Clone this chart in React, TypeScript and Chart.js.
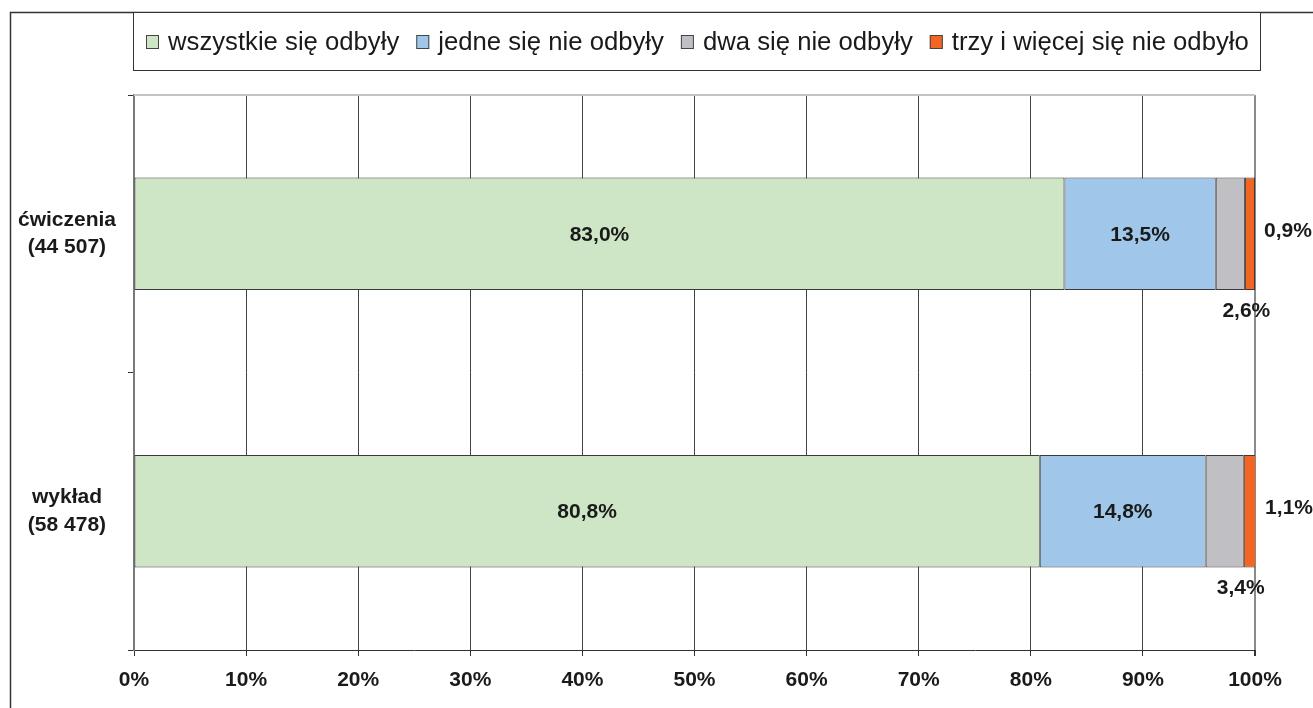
import React, { useEffect, useRef } from "react";
import { Chart, registerables } from "chart.js";

Chart.register(...registerables);

const categories: string[][] = [["ćwiczenia", "(44 507)"], ["wykład", "(58 478)"]];
const seriesNames = ["wszystkie się odbyły", "jedne się nie odbyły", "dwa się nie odbyły", "trzy i więcej się nie odbyło"];
const allHeld = [83.0, 80.8];
const oneMissed = [13.5, 14.8];
const twoMissed = [2.6, 3.4];
const threePlusMissed = [0.9, 1.1];
const xTicks = [0, 10, 20, 30, 40, 50, 60, 70, 80, 90, 100];
const colors = ["#cfe6c6", "#a0c7ea", "#c0c0c4", "#f26522"];

const FONT = "'Liberation Sans', Arial, Helvetica, sans-serif";

const fmt = (v: number) => v.toFixed(1).replace(".", ",") + "%";

const decorPlugin = {
  id: "decor",
  afterDraw(chart: any) {
    const ctx = chart.ctx as CanvasRenderingContext2D;
    const area = chart.chartArea;
    ctx.save();
    // plot area top border
    ctx.strokeStyle = "#c4c4c4";
    ctx.lineWidth = 2;
    ctx.beginPath();
    ctx.moveTo(area.left, area.top);
    ctx.lineTo(area.right, area.top);
    ctx.stroke();

    // outer frame (top + left)
    ctx.strokeStyle = "#333";
    ctx.lineWidth = 1.5;
    ctx.beginPath();
    ctx.moveTo(10.5, 708);
    ctx.lineTo(10.5, 12.5);
    ctx.lineTo(1313, 12.5);
    ctx.stroke();

    // legend box
    const lx = 133, ly = 12, lw = 1127, lh = 58;
    ctx.fillStyle = "#fff";
    ctx.fillRect(lx, ly, lw, lh);
    ctx.strokeStyle = "#333";
    ctx.lineWidth = 1;
    ctx.strokeRect(lx + 0.5, ly + 0.5, lw, lh);

    ctx.font = `25.7px ${FONT}`;
    ctx.textBaseline = "middle";
    ctx.textAlign = "left";
    let x = 146;
    const cy = 42;
    const datasets = chart.data.datasets;
    datasets.forEach((ds: any) => {
      ctx.fillStyle = ds.backgroundColor;
      ctx.fillRect(x, cy - 7, 13, 14);
      ctx.strokeStyle = "#444";
      ctx.lineWidth = 1;
      ctx.strokeRect(x + 0.5, cy - 6.5, 12, 13);
      x += 22;
      ctx.fillStyle = "#1a1a1a";
      ctx.fillText(ds.label, x, cy + 1);
      x += ctx.measureText(ds.label).width + 17;
    });

    // data labels
    ctx.font = `bold 21px ${FONT}`;
    ctx.fillStyle = "#1a1a1a";
    datasets.forEach((ds: any, di: number) => {
      const meta = chart.getDatasetMeta(di);
      meta.data.forEach((bar: any, i: number) => {
        const v = ds.data[i];
        const { x: bx, y: by, base, height } = bar.getProps(["x", "y", "base", "height"], true);
        const txt = fmt(v);
        if (di < 2) {
          ctx.textAlign = "center";
          ctx.fillText(txt, (bx + base) / 2, by + 1);
        } else if (di === 2) {
          ctx.textAlign = "center";
          ctx.fillText(txt, (bx + base) / 2 + 16, by + height / 2 + 21);
        } else {
          ctx.textAlign = "left";
          ctx.fillText(txt, bx + 9, by - 3);
        }
      });
    });
    ctx.restore();
  },
};

export default function App() {
  const ref = useRef<HTMLCanvasElement | null>(null);
  useEffect(() => {
    if (!ref.current) return;
    Chart.defaults.font.family = FONT;
    const chart = new Chart(ref.current, {
      type: "bar",
      data: {
        labels: categories,
        datasets: [allHeld, oneMissed, twoMissed, threePlusMissed].map((d, i) => ({
          label: seriesNames[i],
          data: d,
          backgroundColor: colors[i],
          borderColor: "#3a3a3a",
          borderWidth: 1,
          borderSkipped: false,
          categoryPercentage: 0.5,
          barPercentage: 0.81,
        })),
      },
      options: {
        indexAxis: "y",
        responsive: false,
        animation: false,
        devicePixelRatio: 1,
        layout: { padding: { left: 10, top: 95, right: 58, bottom: 13 } },
        plugins: { legend: { display: false }, tooltip: { enabled: false } },
        scales: {
          x: {
            stacked: true,
            min: 0,
            max: 100,
            afterBuildTicks: (scale: any) => {
              scale.ticks = xTicks.map((v) => ({ value: v }));
            },
            afterFit: (scale: any) => {
              scale.height = 45;
            },
            ticks: {
              callback: (v: any) => v + "%",
              font: { size: 21, weight: "bold" },
              color: "#1a1a1a",
              padding: 12,
              maxRotation: 0,
              autoSkip: false,
            },
            grid: {
              color: (c: any) => (c.index === 10 ? "#8a8a8a" : c.index === 0 ? "#333" : "#444"),
              lineWidth: (c: any) => (c.index === 10 ? 2 : 1),
              tickLength: 6,
              tickColor: "#333",
            },
            border: { color: "#333", width: 1 },
          },
          y: {
            stacked: true,
            offset: true,
            afterFit: (scale: any) => {
              scale.width = 124;
            },
            ticks: {
              font: { size: 21, weight: "bold", lineHeight: 1.3 },
              color: "#1a1a1a",
              crossAlign: "center",
              padding: 12,
            },
            grid: {
              offset: true,
              drawOnChartArea: false,
              tickLength: 6,
              tickColor: "#333",
            },
            border: { color: "#7a7a7a", width: 2 },
          },
        },
      },
      plugins: [decorPlugin],
    } as any);
    return () => chart.destroy();
  }, []);
  return (
    <div style={{ position: "absolute", left: 0, top: 0, width: 1313, height: 708, background: "#fff" }}>
      <canvas ref={ref} width={1313} height={708} style={{ width: 1313, height: 708, display: "block" }} />
    </div>
  );
}
